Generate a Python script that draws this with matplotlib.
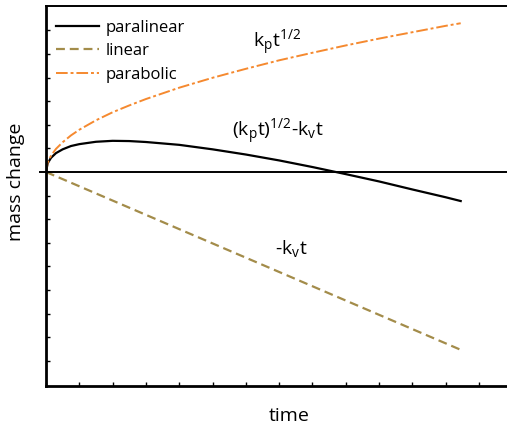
import matplotlib.pyplot as plt
from matplotlib.lines import Line2D

plt.rcParams['font.family'] = ['Open Sans', 'DejaVu Sans']
plt.rcParams['mathtext.fontset'] = 'custom'
plt.rcParams['mathtext.rm'] = 'Open Sans'
plt.rcParams['mathtext.it'] = 'Open Sans'

# oxidation kinetics, arbitrary units
time = [0, 0.05, 0.15, 0.3, 0.5, 0.75, 1, 1.5, 2, 2.5, 3, 4, 5, 6,
        7, 8, 9, 10, 11, 12, 12.45]
parabolic = [0, 0.40, 0.69, 0.98, 1.26, 1.55, 1.79, 2.19, 2.53, 2.82, 3.09,
             3.57, 3.99, 4.37, 4.73, 5.05, 5.36, 5.65, 5.92, 6.19, 6.30]
paralinear = [0, 0.37, 0.60, 0.80, 0.96, 1.10, 1.18, 1.28, 1.32, 1.31, 1.27,
              1.15, 0.96, 0.74, 0.49, 0.21, -0.09, -0.40, -0.74, -1.07, -1.23]
linear_t = [0, 12.45]
linear = [0, -7.53]

orange = '#f5892f'
olive = '#a38c4a'
dash = (0, (4, 2.2))
dashdot = (0, (6, 1.5, 1.5, 1.5))

fig = plt.figure(figsize=(5.07, 4.26), dpi=100)
ax = fig.add_axes([46 / 507, 40.3 / 426, 464 / 507, 379.7 / 426])

ax.plot(time, paralinear, color='black', lw=1.6)
ax.plot(linear_t, linear, color=olive, lw=1.6, ls=dash)
ax.plot(time, parabolic, color=orange, lw=1.4, ls=dashdot)
ax.plot([-0.18, 14], [0, 0], color='black', lw=1.4, clip_on=False)

ax.set_xlim(0, 13.93)
ax.set_ylim(-9.05, 7.03)
ax.set_xticks(range(0, 14))
ax.set_yticks(range(-8, 7))
ax.tick_params(direction='in', length=3, width=1, labelleft=False,
               labelbottom=False, colors='black')
ax.spines['left'].set_linewidth(2)
ax.spines['bottom'].set_linewidth(2)
ax.spines['top'].set_linewidth(1.4)
ax.spines['right'].set_visible(False)

ax.set_xlabel('time', fontsize=14)
ax.set_ylabel('mass change', fontsize=14)
ax.xaxis.set_label_coords(0.524, -0.056)
ax.yaxis.set_label_coords(-0.045, 0.536)

handles = [
    Line2D([], [], color='black', lw=1.6),
    Line2D([], [], color=olive, lw=1.6, ls=dash),
    Line2D([], [], color=orange, lw=1.4, ls=dashdot),
]
ax.legend(handles, ['paralinear', 'linear', 'parabolic'], loc='upper left',
          bbox_to_anchor=(0.0, 0.99), frameon=False, fontsize=12,
          handlelength=2.6, handletextpad=0.36, labelspacing=0.45,
          borderaxespad=0.2)

ax.text(6.95, 5.45, r'$\mathregular{k_pt^{1/2}}$', fontsize=14, ha='center', va='center')
ax.text(6.95, 1.7, r'$\mathregular{(k_pt)^{1/2}\text{-}k_vt}$', fontsize=14,
        ha='center', va='center')
ax.text(7.36, -3.25, r'$\mathregular{\text{-}k_vt}$', fontsize=14, ha='center', va='center')

fig.savefig('out.png', dpi=100)
